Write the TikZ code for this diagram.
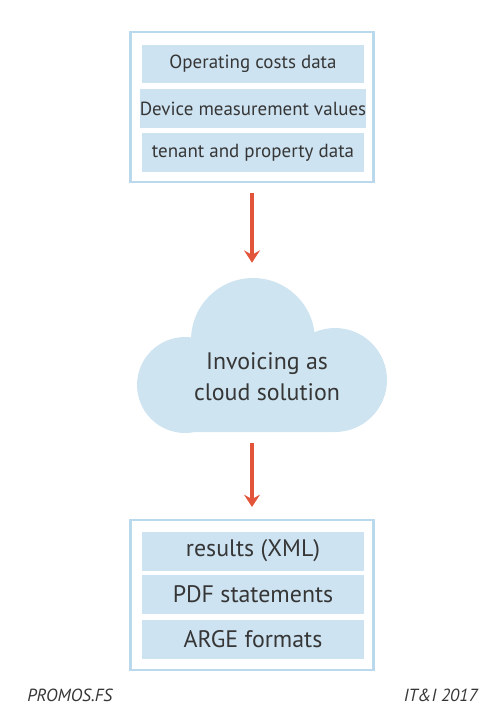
\documentclass[tikz,border=0pt]{standalone}
\usepackage{fontspec}
\setmainfont{PT Sans}
\usetikzlibrary{arrows.meta}
\definecolor{frameblue}{HTML}{BBD9EC}
\definecolor{barblue}{HTML}{CDE3F1}
\definecolor{cloudblue}{HTML}{CFE4F1}
\definecolor{arrowred}{HTML}{E3553A}
\definecolor{textgrey}{HTML}{363636}

\tikzset{
  frame/.style={draw=frameblue, line width=1.2pt, minimum width=4.86cm, minimum height=3cm},
  bar/.style={fill=barblue, minimum width=4.46cm, minimum height=0.78cm, inner sep=0pt, text=textgrey},
  flowarrow/.style={draw=arrowred, line width=2.3pt, -{Stealth[length=7pt, width=9pt, inset=2.5pt]}}
}

\begin{document}
\begin{tikzpicture}[x=0.02cm, y=-0.02cm]
  \useasboundingbox (0,0) rectangle (500,727);

  % input data
  \node[frame] (inbox) at (252,107) {};
  \node[bar, font=\fontsize{10.8}{13}\selectfont] (costs) at (253,64) {Operating costs data};
  \node[bar, font=\fontsize{10.8}{13}\selectfont] (measure) at (253,108.5) {Device measurement values};
  \node[bar, font=\fontsize{10.8}{13}\selectfont] (tenant) at (253,152.5) {tenant and property data};

  % cloud
  \fill[cloudblue] (185,385) circle[radius=0.96cm] (253,340) circle[radius=1.24cm]
    (335,380) circle[radius=1.04cm] (185,350) rectangle (335,432);
  \node[minimum width=5cm, minimum height=3.04cm] (cloud) at (262,354) {};
  \node[align=center, text=textgrey, font=\fontsize{13.6}{17.5}\selectfont] (cloudtext) at (267,377) {Invoicing as\\cloud solution};

  % results
  \node[frame] (outbox) at (252,595) {};
  \node[bar, font=\fontsize{13.6}{16}\selectfont] (xml) at (253,551) {results (XML)};
  \node[bar, font=\fontsize{13.6}{16}\selectfont] (pdf) at (253,594.5) {PDF statements};
  \node[bar, font=\fontsize{13.6}{16}\selectfont] (arge) at (253,639) {ARGE formats};

  \draw[flowarrow, shorten <=5.7pt, shorten >=8.5pt] (inbox.south) -- (inbox.south |- cloud.north);
  \draw[flowarrow, shorten <=7.4pt, shorten >=6.8pt] (inbox.south |- cloud.south) -- (outbox.north);

  % footer
  \node[anchor=west, inner sep=0pt, text=textgrey, font=\fontsize{10}{12}\selectfont\itshape] (source) at (27,695) {PROMOS.FS};
  \node[anchor=east, inner sep=0pt, text=textgrey, font=\fontsize{10}{12}\selectfont\itshape] (year) at (478,695) {IT\&I 2017};
\end{tikzpicture}
\end{document}
